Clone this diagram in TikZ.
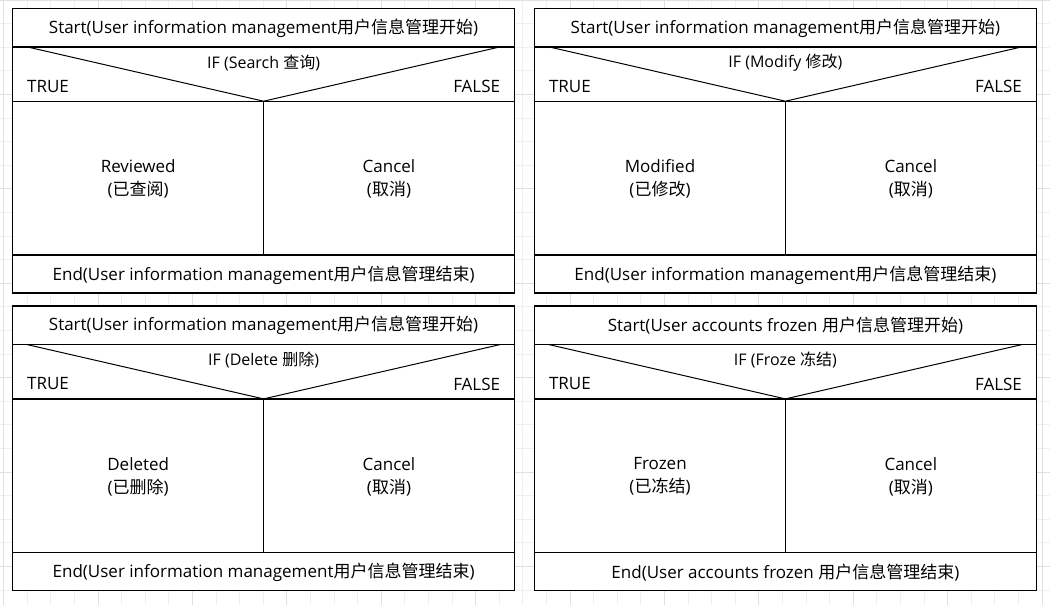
\documentclass[tikz,border=0pt]{standalone}
\usepackage{fontspec}
\setmainfont{Open Sans}
\newfontfamily\cjk{Noto Sans CJK SC}
\tikzset{
  gridminor/.style={draw=black!6, line width=0.9pt},
  gridmajor/.style={draw=black!12, line width=0.9pt},
  frame/.style={draw=black, line width=1.3pt},
  diag/.style={draw=black, line width=1pt},
  lbl/.style={inner sep=0pt, font=\fontsize{17}{23}\selectfont, align=center},
  iflbl/.style={inner sep=0pt, font=\fontsize{16}{18}\selectfont},
}
\newcommand\nspanel[7]{%
\begin{scope}[shift={(#2)}]
  \coordinate (#1-tl) at (0,0);
  \coordinate (#1-br) at (501.8,284.7);
  \coordinate (#1-a) at (0,38.6);   \coordinate (#1-a2) at (501.8,38.6);
  \coordinate (#1-b) at (0,92.9);   \coordinate (#1-b2) at (501.8,92.9);
  \coordinate (#1-c) at (0,246.6);  \coordinate (#1-c2) at (501.8,246.6);
  \coordinate (#1-m) at (250.9,92.9); \coordinate (#1-m2) at (250.9,246.6);
  \coordinate (#1-dl) at (14.5,38.6); \coordinate (#1-dr) at (487.3,38.6);
  \fill[white] (#1-tl) rectangle (#1-br);
  \draw[diag] (#1-dl) -- (#1-m) -- (#1-dr);
  \draw[frame] (#1-a) -- (#1-a2);
  \draw[frame] (#1-b) -- (#1-b2);
  \draw[frame] (#1-c) -- (#1-c2);
  \draw[frame] (#1-m) -- (#1-m2);
  \draw[frame] (#1-tl) rectangle (#1-br);
  \node[lbl] (#1-start) at (250.9,19.8) {#3};
  \node[iflbl] (#1-if) at (250.9,54.3) {#4};
  \node[lbl, anchor=west] (#1-true) at (14.3,78) {TRUE};
  \node[lbl, anchor=east] (#1-false) at (487.6,78) {FALSE};
  \node[lbl] (#1-yes) at (125.5,170.5) {#5};
  \node[lbl] (#1-no) at (376.3,170.5) {Cancel\\({\cjk 取消})};
  \node[lbl] (#1-end) at (250.9,266.8) {#6};
\end{scope}}
\begin{document}
\begin{tikzpicture}[x=1pt,y=-1pt]
\useasboundingbox (0,0) rectangle (1050,605);
\fill[white] (0,0) rectangle (1050,605);
\foreach \i in {0,...,44} { \draw[gridminor] ({3.6+23.6*\i},0) -- ({3.6+23.6*\i},605); }
\foreach \i in {0,...,25} { \draw[gridminor] (0,{23.6*\i}) -- (1050,{23.6*\i}); }
\foreach \i in {0,4,...,44} { \draw[gridmajor] ({3.6+23.6*\i},0) -- ({3.6+23.6*\i},605); }
\foreach \i in {0,4,...,24} { \draw[gridmajor] (0,{23.6*\i}) -- (1050,{23.6*\i}); }
\nspanel{p1}{12.7,8.3}{Start(User information management{\cjk 用户信息管理开始})}{IF (Search {\cjk 查询})}{Reviewed\\({\cjk 已查阅})}{End(User information management{\cjk 用户信息管理结束})}{}
\nspanel{p2}{534.5,8.3}{Start(User information management{\cjk 用户信息管理开始})}{IF (Modify {\cjk 修改})}{Modified\\({\cjk 已修改})}{End(User information management{\cjk 用户信息管理结束})}{}
\nspanel{p3}{12.7,306}{Start(User information management{\cjk 用户信息管理开始})}{IF (Delete {\cjk 删除})}{Deleted\\({\cjk 已删除})}{End(User information management{\cjk 用户信息管理结束})}{}
\nspanel{p4}{534.5,306}{Start(User accounts frozen {\cjk 用户信息管理开始})}{IF (Froze {\cjk 冻结})}{Frozen\\({\cjk 已冻结})}{End(User accounts frozen {\cjk 用户信息管理结束})}{}
\end{tikzpicture}
\end{document}
